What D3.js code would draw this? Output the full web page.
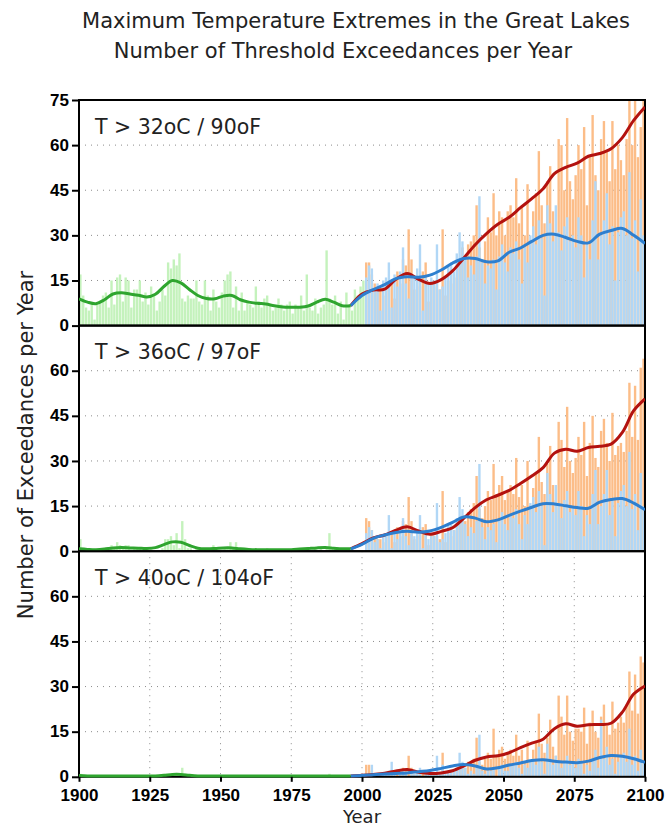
<!DOCTYPE html>
<html>
<head>
<meta charset="utf-8">
<script src="https://cdn.jsdelivr.net/npm/d3@7"></script>
<style>
  body { margin: 0; background: #fff; }
  svg text { fill: #222; }
  .tick text { font-family: "Liberation Sans", Arial, sans-serif; font-weight: bold; font-size: 17px; fill: #000; }
  .lbl { font-family: "DejaVu Sans", sans-serif; }
</style>
</head>
<body>
<svg id="chart" width="665" height="827"></svg>
<script>
// observed years 1900-2000, projected years 2001-2100
const obsYears = d3.range(1900, 2001);
const futYears = d3.range(2001, 2101);

// ---- T > 32C : bars ----
const obs32 = [17, 10, 6, 5, 7, 2, 7, 8, 10, 11,
  6, 15, 7, 16, 17, 8, 16, 15, 6, 12,
  12, 15, 8, 11, 7, 13, 10, 5, 8, 12,
  10, 21, 19, 22, 20, 24, 9, 8, 10, 9,
  9, 15, 8, 7, 15, 10, 5, 12, 8, 6,
  11, 15, 17, 18, 6, 13, 5, 11, 5, 8,
  7, 6, 13, 8, 6, 9, 10, 7, 5, 6,
  9, 7, 5, 7, 8, 4, 7, 6, 10, 5,
  17, 6, 5, 9, 4, 6, 7, 25, 9, 7,
  10, 4, 8, 2, 11, 7, 5, 12, 10, 13,
  15];
const low32 = [16, 20, 19, 12, 14, 5, 15, 16, 21, 6,
  17, 13, 18, 26, 14, 9, 17, 16, 19, 27,
  5, 16, 14, 16, 15, 27, 12, 13, 16, 20,
  21, 18, 24, 31, 28, 22, 16, 20, 17, 23,
  43, 21, 14, 20, 19, 22, 12, 23, 27, 21,
  18, 26, 24, 28, 22, 14, 26, 21, 30, 33,
  27, 35, 29, 10, 40, 34, 28, 40, 31, 25,
  33, 36, 28, 30, 26, 36, 30, 16, 27, 22,
  35, 48, 22, 30, 35, 44, 27, 33, 15, 31,
  36, 38, 30, 51, 29, 35, 18, 42, 30, 14];
const high32 = [21, 21, 17, 14, 12, 13, 10, 15, 14, 15,
  9, 18, 14, 22, 20, 32, 22, 12, 16, 13,
  18, 21, 8, 15, 13, 14, 12, 32, 10, 15,
  14, 17, 16, 20, 26, 22, 27, 28, 30, 40,
  26, 22, 28, 36, 31, 44, 30, 38, 36, 30,
  38, 40, 36, 49, 34, 40, 30, 47, 28, 38,
  44, 58, 40, 34, 48, 53, 38, 30, 62, 60,
  45, 69, 48, 42, 50, 60, 52, 66, 40, 56,
  70, 50, 45, 62, 68, 58, 48, 68, 52, 60,
  55, 50, 62, 82, 60, 85, 56, 66, 82, 45];

// ---- T > 36C : bars ----
const obs36 = [4, 1, 0, 0, 0, 0, 0, 0, 1, 1,
  0, 2, 1, 3, 2, 1, 2, 2, 0, 1,
  1, 1, 0, 0, 0, 1, 0, 0, 0, 1,
  4, 4, 5, 2, 6, 1, 10, 4, 1, 1,
  0, 1, 0, 0, 1, 0, 0, 2, 0, 0,
  0, 1, 1, 3, 1, 3, 0, 1, 0, 0,
  0, 0, 1, 0, 0, 0, 1, 0, 0, 0,
  0, 0, 0, 0, 0, 0, 0, 0, 1, 0,
  1, 0, 0, 1, 0, 1, 0, 1, 6, 0,
  1, 0, 0, 0, 1, 1, 0, 0, 0, 0,
  0];
const low36 = [6, 8, 7, 3, 4, 1, 5, 6, 12, 1,
  7, 4, 6, 11, 5, 2, 6, 5, 7, 12,
  1, 6, 4, 5, 5, 16, 3, 4, 6, 9,
  9, 7, 11, 18, 14, 9, 5, 8, 6, 10,
  29, 8, 4, 8, 7, 9, 3, 10, 13, 9,
  7, 12, 11, 14, 9, 4, 12, 9, 16, 18,
  13, 20, 15, 2, 26, 19, 13, 22, 16, 11,
  17, 20, 13, 15, 12, 20, 15, 5, 12, 9,
  19, 27, 9, 15, 19, 27, 12, 17, 5, 16,
  20, 22, 15, 33, 14, 19, 7, 26, 15, 4];
const high36 = [11, 10, 7, 5, 4, 4, 3, 6, 5, 6,
  3, 8, 5, 10, 9, 18, 10, 4, 6, 5,
  8, 9, 2, 6, 5, 5, 4, 20, 3, 6,
  5, 7, 7, 9, 12, 10, 13, 14, 16, 25,
  14, 11, 15, 20, 17, 29, 19, 22, 25, 17,
  20, 22, 19, 31, 18, 22, 15, 30, 14, 21,
  26, 38, 23, 19, 29, 35, 22, 17, 43, 37,
  28, 48, 30, 26, 31, 38, 32, 43, 25, 36,
  45, 31, 28, 40, 44, 36, 30, 46, 32, 35,
  36, 33, 40, 56, 38, 55, 37, 61, 64, 30];

// ---- T > 40C : bars ----
const obs40 = [1, 0, 0, 0, 0, 0, 0, 0, 0, 0,
  0, 0, 0, 0, 0, 0, 0, 0, 0, 0,
  0, 0, 0, 0, 0, 0, 0, 0, 0, 0,
  1, 0, 0, 0, 1, 0, 3, 1, 0, 0,
  0, 0, 0, 0, 0, 0, 0, 0, 0, 0,
  0, 0, 0, 0, 0, 0, 0, 0, 0, 0,
  0, 0, 0, 0, 0, 0, 0, 0, 0, 0,
  0, 0, 0, 0, 0, 0, 0, 0, 0, 0,
  0, 0, 0, 0, 0, 0, 0, 0, 1, 0,
  0, 0, 0, 0, 0, 0, 0, 0, 0, 0,
  0];
const low40 = [1, 1, 4, 0, 0, 0, 1, 1, 2, 5,
  1, 0, 1, 2, 1, 0, 1, 1, 1, 3,
  0, 1, 1, 1, 1, 7, 1, 4, 1, 2,
  2, 2, 3, 8, 5, 3, 1, 2, 1, 3,
  14, 2, 1, 2, 2, 3, 0, 3, 4, 2,
  2, 4, 4, 5, 3, 1, 4, 3, 5, 6,
  4, 10, 5, 1, 11, 6, 4, 7, 5, 3,
  5, 7, 4, 5, 3, 6, 5, 1, 4, 2,
  6, 9, 3, 19, 6, 10, 4, 6, 1, 5,
  7, 8, 5, 16, 4, 7, 2, 9, 5, 1];
const high40 = [4, 4, 2, 1, 0, 1, 0, 1, 1, 1,
  0, 2, 1, 3, 2, 7, 3, 1, 1, 1,
  2, 2, 0, 1, 1, 1, 0, 8, 0, 1,
  1, 2, 2, 3, 4, 3, 5, 5, 6, 13,
  5, 4, 6, 8, 6, 16, 7, 9, 10, 6,
  8, 9, 7, 14, 7, 9, 5, 12, 5, 9,
  12, 21, 11, 8, 13, 19, 10, 7, 27, 20,
  14, 27, 15, 12, 16, 16, 15, 23, 11, 18,
  22, 15, 13, 20, 24, 17, 14, 25, 16, 18,
  20, 18, 24, 35, 22, 34, 21, 40, 38, 16];

// smoothed curves, read at these years
const obsKnots = [1900, 1903, 1906, 1909, 1912, 1915, 1918, 1921, 1924, 1927, 1930, 1933,
  1936, 1939, 1942, 1945, 1948, 1951, 1954, 1957, 1960, 1963, 1966, 1969, 1972, 1975,
  1978, 1981, 1984, 1987, 1990, 1993, 1996];
const futKnots = [1996, 2000, 2004, 2008, 2012, 2016, 2020, 2024, 2028, 2032, 2036, 2040,
  2044, 2048, 2052, 2056, 2060, 2064, 2068, 2072, 2076, 2080, 2084, 2088, 2092, 2096, 2100];

const obsSmooth32 = [8.9, 7.8, 7.3, 8.6, 10.5, 10.9, 10.5, 10.1, 9.5, 10.4, 13.0, 15.0,
  14.2, 12.0, 10.0, 9.0, 8.9, 9.8, 10.0, 8.6, 7.8, 7.4, 7.2, 6.6, 6.2, 6.1,
  6.1, 6.5, 7.8, 8.8, 7.8, 6.6, 6.6];
const lowSmooth32 = [6.6, 10.0, 12.0, 13.6, 15.6, 16.2, 16.1, 16.8, 18.5, 20.8, 22.3, 22.3,
  21.2, 21.5, 24.4, 25.8, 28.0, 30.0, 30.4, 29.3, 28.0, 27.5, 30.4, 31.6, 32.3, 30.0, 27.3];
const highSmooth32 = [6.6, 10.5, 11.8, 12.1, 15.4, 17.3, 15.4, 14.0, 15.3, 18.2, 22.5, 26.9,
  30.6, 33.7, 36.0, 39.2, 42.2, 45.5, 50.5, 52.6, 54.0, 56.3, 57.2, 58.8, 62.5, 68.2, 72.7];

const obsSmooth36 = [0.8, 0.6, 0.5, 0.7, 1.1, 1.2, 1.1, 1.0, 0.9, 1.2, 2.2, 3.1,
  3.0, 1.9, 1.0, 0.8, 0.9, 1.1, 1.1, 0.8, 0.6, 0.5, 0.5, 0.5, 0.5, 0.5,
  0.7, 0.9, 1.1, 1.2, 1.0, 0.8, 0.8];
const lowSmooth36 = [0.8, 2.3, 4.3, 5.4, 6.2, 6.6, 6.3, 6.7, 7.9, 9.6, 11.4, 11.0,
  9.8, 10.4, 11.9, 13.3, 14.6, 15.8, 15.7, 15.1, 14.5, 14.3, 16.3, 17.2, 17.5, 16.0, 13.8];
const highSmooth36 = [0.8, 2.5, 4.4, 5.4, 7.0, 8.1, 6.7, 5.6, 6.6, 7.8, 11.0, 14.5,
  17.1, 18.6, 20.2, 22.5, 25.0, 27.8, 32.6, 33.9, 33.2, 34.5, 34.9, 35.6, 39.5, 46.7, 50.6];

const obsSmooth40 = [0.4, 0.3, 0.3, 0.3, 0.3, 0.3, 0.3, 0.3, 0.3, 0.3, 0.5, 0.8,
  0.8, 0.5, 0.3, 0.3, 0.3, 0.3, 0.3, 0.3, 0.3, 0.3, 0.3, 0.3, 0.3, 0.3,
  0.3, 0.3, 0.3, 0.3, 0.3, 0.3, 0.3];
const lowSmooth40 = [0.3, 0.4, 0.7, 0.9, 1.1, 1.3, 1.7, 2.1, 2.8, 3.6, 4.1, 3.6,
  2.6, 3.0, 3.9, 4.6, 5.4, 5.7, 5.2, 4.9, 4.7, 5.2, 6.4, 7.1, 6.8, 6.0, 4.8];
const highSmooth40 = [0.3, 0.5, 0.8, 1.2, 1.9, 2.4, 1.5, 1.1, 1.3, 2.0, 3.6, 5.5,
  6.6, 7.0, 8.0, 9.7, 11.2, 12.5, 16.0, 17.6, 16.8, 17.3, 17.4, 17.8, 21.5, 27.5, 30.2];

const panelLabels = ["T > 32oC / 90oF", "T > 36oC / 97oF", "T > 40oC / 104oF"];
const yTicksTop = [0, 15, 30, 45, 60, 75];
const yTicksRest = [0, 15, 30, 45, 60];
const xTicks = [1900, 1925, 1950, 1975, 2000, 2025, 2050, 2075, 2100];

const panels = [
  { label: panelLabels[0], obs: obs32, low: low32, high: high32, sObs: obsSmooth32, sLow: lowSmooth32, sHigh: highSmooth32, ticks: yTicksTop },
  { label: panelLabels[1], obs: obs36, low: low36, high: high36, sObs: obsSmooth36, sLow: lowSmooth36, sHigh: highSmooth36, ticks: yTicksRest },
  { label: panelLabels[2], obs: obs40, low: low40, high: high40, sObs: obsSmooth40, sLow: lowSmooth40, sHigh: highSmooth40, ticks: yTicksRest, vgrid: true }
];

// layout
const left = 79, right = 645, top0 = 100, ph = 225.6;
const colors = {
  obsBar: "#c4f2bc", lowBar: "#b1d7f6", highBar: "#fcbd88",
  obsLine: "#2fa52f", lowLine: "#2e7fcf", highLine: "#b3120f"
};

const svg = d3.select("#chart");
const x = d3.scaleLinear().domain([1900, 2100]).range([left, right]);
const barW = x(1901) - x(1900) - 0.45;

// titles
svg.append("text").attr("class", "lbl")
  .attr("x", 356).attr("y", 28).attr("text-anchor", "middle")
  .style("font-size", "21px")
  .text("Maximum Temperature Extremes in the Great Lakes");
svg.append("text").attr("class", "lbl")
  .attr("x", 343).attr("y", 58).attr("text-anchor", "middle")
  .style("font-size", "21px")
  .text("Number of Threshold Exceedances per Year");

panels.forEach((p, i) => {
  const ptop = top0 + i * ph;
  const y = d3.scaleLinear().domain([0, 75]).range([ptop + ph, ptop]);

  svg.append("clipPath").attr("id", "clip" + i)
    .append("rect").attr("x", left).attr("y", ptop).attr("width", right - left).attr("height", ph);
  // lines may sit on the bottom frame
  svg.append("clipPath").attr("id", "lclip" + i)
    .append("rect").attr("x", left).attr("y", ptop).attr("width", right - left).attr("height", ph + 1.5);

  const g = svg.append("g");
  const plot = g.append("g").attr("clip-path", "url(#clip" + i + ")");

  // dotted grid
  plot.selectAll(".hg").data([15, 30, 45, 60]).enter().append("line")
    .attr("x1", left).attr("x2", right)
    .attr("y1", d => y(d)).attr("y2", d => y(d))
    .attr("stroke", "#8c8c8c").attr("stroke-width", 1).attr("stroke-dasharray", "1,5");
  if (p.vgrid) {
    plot.selectAll(".vg").data(xTicks.slice(1, -1)).enter().append("line")
      .attr("x1", d => x(d)).attr("x2", d => x(d))
      .attr("y1", ptop).attr("y2", ptop + ph)
      .attr("stroke", "#8c8c8c").attr("stroke-width", 1).attr("stroke-dasharray", "1,5");
  }

  // bars: observed, high emissions, then low emissions on top
  plot.selectAll(".ob").data(p.obs).enter().append("rect")
    .attr("x", (d, k) => x(obsYears[k]) + 0.2).attr("width", barW)
    .attr("y", d => y(d)).attr("height", d => y(0) - y(d))
    .attr("fill", colors.obsBar);
  plot.selectAll(".hb").data(p.high).enter().append("rect")
    .attr("x", (d, k) => x(futYears[k]) + 0.2).attr("width", barW)
    .attr("y", d => y(d)).attr("height", d => y(0) - y(d))
    .attr("fill", colors.highBar);
  plot.selectAll(".lb").data(p.low).enter().append("rect")
    .attr("x", (d, k) => x(futYears[k]) + 0.2).attr("width", barW)
    .attr("y", d => y(d)).attr("height", d => y(0) - y(d))
    .attr("fill", colors.lowBar);

  // frame
  g.append("rect").attr("x", left).attr("y", ptop).attr("width", right - left).attr("height", ph)
    .attr("fill", "none").attr("stroke", "#000").attr("stroke-width", 2);

  // smoothed lines
  const lines = g.append("g").attr("clip-path", "url(#lclip" + i + ")");
  const line = d3.line().curve(d3.curveCatmullRom.alpha(0.5));
  lines.append("path")
    .attr("d", line(futKnots.map((yr, k) => [x(yr), y(p.sHigh[k])])))
    .attr("fill", "none").attr("stroke", colors.highLine).attr("stroke-width", 3);
  lines.append("path")
    .attr("d", line(futKnots.map((yr, k) => [x(yr), y(p.sLow[k])])))
    .attr("fill", "none").attr("stroke", colors.lowLine).attr("stroke-width", 3);
  lines.append("path")
    .attr("d", line(obsKnots.map((yr, k) => [x(yr), y(p.sObs[k])])))
    .attr("fill", "none").attr("stroke", colors.obsLine).attr("stroke-width", 3);

  // y axis
  const ya = g.append("g").attr("transform", "translate(" + left + ",0)")
    .call(d3.axisLeft(y).tickValues(p.ticks).tickSize(7).tickPadding(3).tickSizeOuter(0));
  ya.select(".domain").remove();
  ya.selectAll(".tick line").attr("stroke", "#000").attr("stroke-width", 2);
  ya.selectAll(".tick text").attr("dy", "0.3em");

  // panel label
  g.append("text").attr("class", "lbl")
    .attr("x", 95).attr("y", ptop + 33.5)
    .style("font-size", "20.5px")
    .text(p.label);
});

// x axis at the bottom
const xa = svg.append("g").attr("transform", "translate(0," + (top0 + 3 * ph) + ")")
  .call(d3.axisBottom(x).tickValues(xTicks).tickFormat(d3.format("d")).tickSize(5).tickPadding(7).tickSizeOuter(0));
xa.select(".domain").remove();
xa.selectAll(".tick line").attr("stroke", "#000").attr("stroke-width", 2);

// axis titles
svg.append("text").attr("class", "lbl")
  .attr("x", (left + right) / 2).attr("y", 822.5).attr("text-anchor", "middle")
  .style("font-size", "18px").text("Year");
svg.append("text").attr("class", "lbl")
  .attr("transform", "translate(33," + 445 + ") rotate(-90)")
  .attr("text-anchor", "middle")
  .style("font-size", "21px").text("Number of Exceedances per Year");
</script>
</body>
</html>
